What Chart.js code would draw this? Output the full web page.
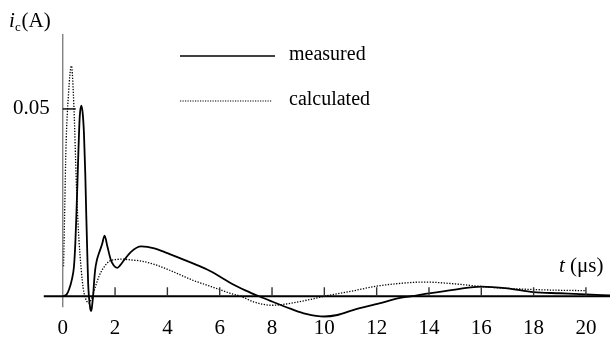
<!DOCTYPE html>
<html>
<head>
<meta charset="utf-8">
<script src="https://cdn.jsdelivr.net/npm/chart.js@4.4.1/dist/chart.umd.min.js"></script>
<style>
  html, body { margin: 0; padding: 0; background: #fff; }
  #wrap { width: 610px; height: 356px; position: relative; }
</style>
</head>
<body>
<div id="wrap"><canvas id="c" width="610" height="356"></canvas></div>
<script>
// ---- data ----
const xTicks = [0, 2, 4, 6, 8, 10, 12, 14, 16, 18, 20];
const yTicks = [0.05];
const seriesNames = ["measured", "calculated"];

const tMeasured = [0, 0.15, 0.24, 0.35, 0.43, 0.48, 0.52, 0.56, 0.6, 0.65, 0.71, 0.76, 0.81, 0.86, 0.9, 0.94, 0.97, 1.0, 1.05, 1.09, 1.13, 1.16, 1.2, 1.24, 1.3, 1.39, 1.5, 1.6, 1.7, 1.83, 1.95, 2.09, 2.2, 2.34, 2.6, 3.0, 3.5, 4.0, 4.5, 5.0, 5.5, 6.0, 6.5, 7.0, 7.5, 8.0, 8.7, 9.3, 10.0, 10.5, 11.1, 12.1, 12.9, 13.3, 14.0, 15.0, 16.0, 17.0, 18.0, 19.0, 20.0, 20.92];
const iMeasured = [0, 0.0005, 0.0018, 0.0045, 0.008, 0.014, 0.0214, 0.030, 0.039, 0.048, 0.0509, 0.049, 0.0436, 0.033, 0.0214, 0.011, 0.0036, 0, -0.0032, -0.0039, -0.002, 0, 0.004, 0.0071, 0.0095, 0.0116, 0.0138, 0.0162, 0.0135, 0.0099, 0.0082, 0.0076, 0.0083, 0.0096, 0.0118, 0.0133, 0.0128, 0.0115, 0.0101, 0.0087, 0.0072, 0.0053, 0.0032, 0.0015, 0, -0.0014, -0.0033, -0.0047, -0.0054, -0.0050, -0.0037, -0.0019, -0.0004, 0, 0.0008, 0.0018, 0.0026, 0.0021, 0.0011, 0.0008, 0.0005, 0.0002];

const tCalculated = [0.03, 0.08, 0.12, 0.22, 0.33, 0.43, 0.52, 0.58, 0.66, 0.75, 0.81, 1.0, 1.13, 1.26, 1.39, 1.55, 1.77, 2.02, 2.3, 2.6, 3.0, 3.5, 4.0, 4.5, 5.0, 5.5, 6.0, 6.4, 6.8, 7.3, 8.0, 8.5, 9.0, 9.5, 10.0, 11.0, 12.0, 13.0, 13.8, 15.0, 16.0, 17.0, 18.0, 19.0, 20.0];
const iCalculated = [0.008, 0.025, 0.039, 0.054, 0.0615, 0.05, 0.030, 0.020, 0.011, 0.004, 0.001, -0.0018, 0, 0.0028, 0.0054, 0.0075, 0.0093, 0.0098, 0.0099, 0.0097, 0.0094, 0.0085, 0.0072, 0.0057, 0.0042, 0.003, 0.0018, 0.0008, 0, -0.0015, -0.0024, -0.0021, -0.0015, -0.0008, 0, 0.0013, 0.0027, 0.0035, 0.0038, 0.0033, 0.0026, 0.0021, 0.0018, 0.0016, 0.0015];

const toPts = (xs, ys) => xs.map((x, k) => ({ x: x, y: ys[k] }));

const FONT = "'Liberation Serif', 'Times New Roman', serif";

const decor = {
  id: 'decor',
  afterDraw(chart) {
    const ctx = chart.ctx;
    const xs = chart.scales.x, ys = chart.scales.y;
    const x0 = xs.getPixelForValue(0);
    const y0 = ys.getPixelForValue(0);
    ctx.save();
    // vertical axis (gray)
    ctx.strokeStyle = '#777';
    ctx.lineWidth = 1.3;
    ctx.beginPath();
    ctx.moveTo(x0, ys.getPixelForValue(0.07));
    ctx.lineTo(x0, y0 + 11);
    ctx.stroke();
    // zero line
    ctx.strokeStyle = '#000';
    ctx.lineWidth = 2;
    ctx.beginPath();
    ctx.moveTo(x0 - 19, y0);
    ctx.lineTo(chart.width, y0);
    ctx.stroke();
    // x ticks
    ctx.strokeStyle = '#333';
    ctx.lineWidth = 1.4;
    xTicks.forEach(v => {
      if (v === 0) return;
      const px = xs.getPixelForValue(v);
      ctx.beginPath();
      ctx.moveTo(px, y0);
      ctx.lineTo(px, y0 - 9);
      ctx.stroke();
    });
    // y ticks
    ctx.strokeStyle = '#000';
    ctx.lineWidth = 1.4;
    yTicks.forEach(v => {
      const py = ys.getPixelForValue(v);
      ctx.beginPath();
      ctx.moveTo(x0, py);
      ctx.lineTo(x0 + 13, py);
      ctx.stroke();
    });
    // axis titles
    ctx.fillStyle = '#000';
    ctx.textBaseline = 'alphabetic';
    ctx.textAlign = 'left';
    ctx.font = 'italic 21px ' + FONT;
    ctx.fillText('i', 9, 27);
    ctx.font = '13px ' + FONT;
    ctx.fillText('c', 15, 31);
    ctx.font = '21px ' + FONT;
    ctx.fillText('(A)', 21.5, 27);
    ctx.font = 'italic 21px ' + FONT;
    ctx.fillText('t', 559, 272);
    const tw = ctx.measureText('t ').width;
    ctx.font = '21px ' + FONT;
    ctx.fillText('(\u03bcs)', 559 + tw, 272);
    // legend
    ctx.lineWidth = 1.6;
    ctx.strokeStyle = '#000';
    ctx.setLineDash([]);
    ctx.beginPath(); ctx.moveTo(180, 56); ctx.lineTo(275, 56); ctx.stroke();
    ctx.lineWidth = 1.1;
    ctx.setLineDash([1.2, 1.3]);
    ctx.beginPath(); ctx.moveTo(180, 101); ctx.lineTo(272, 101); ctx.stroke();
    ctx.setLineDash([]);
    ctx.font = '20px ' + FONT;
    ctx.textBaseline = 'middle';
    ctx.fillText(seriesNames[0], 289, 55);
    ctx.fillText(seriesNames[1], 289, 100);
    ctx.restore();
  }
};

new Chart(document.getElementById('c'), {
  type: 'line',
  data: {
    datasets: [
      {
        label: seriesNames[0],
        data: toPts(tMeasured, iMeasured),
        borderColor: '#000',
        borderWidth: 1.8,
        pointRadius: 0,
        cubicInterpolationMode: 'monotone',
        fill: false,
        clip: false
      },
      {
        label: seriesNames[1],
        data: toPts(tCalculated, iCalculated),
        borderColor: '#000',
        borderWidth: 1.3,
        borderDash: [1.3, 1.5],
        pointRadius: 0,
        cubicInterpolationMode: 'monotone',
        fill: false,
        clip: false
      }
    ]
  },
  options: {
    responsive: false,
    animation: false,
    devicePixelRatio: 1,
    layout: { padding: { left: 0, right: 0, top: 34, bottom: 14 } },
    plugins: { legend: { display: false }, tooltip: { enabled: false } },
    scales: {
      x: {
        type: 'linear',
        min: 0,
        max: 20.92,
        afterBuildTicks: (s) => { s.ticks = xTicks.map(v => ({ value: v })); },
        grid: { display: false, drawTicks: false },
        border: { display: false },
        ticks: {
          color: '#000',
          font: { family: FONT, size: 21, lineHeight: 1.0 },
          padding: 3,
          maxRotation: 0,
          autoSkip: false
        }
      },
      y: {
        type: 'linear',
        min: -0.005,
        max: 0.07,
        afterBuildTicks: (s) => { s.ticks = yTicks.map(v => ({ value: v })); },
        grid: { display: false, drawTicks: false },
        border: { display: false },
        ticks: {
          color: '#000',
          font: { family: FONT, size: 21 },
          padding: 13,
          callback: (v) => String(v)
        }
      }
    }
  },
  plugins: [decor]
});
</script>
</body>
</html>
